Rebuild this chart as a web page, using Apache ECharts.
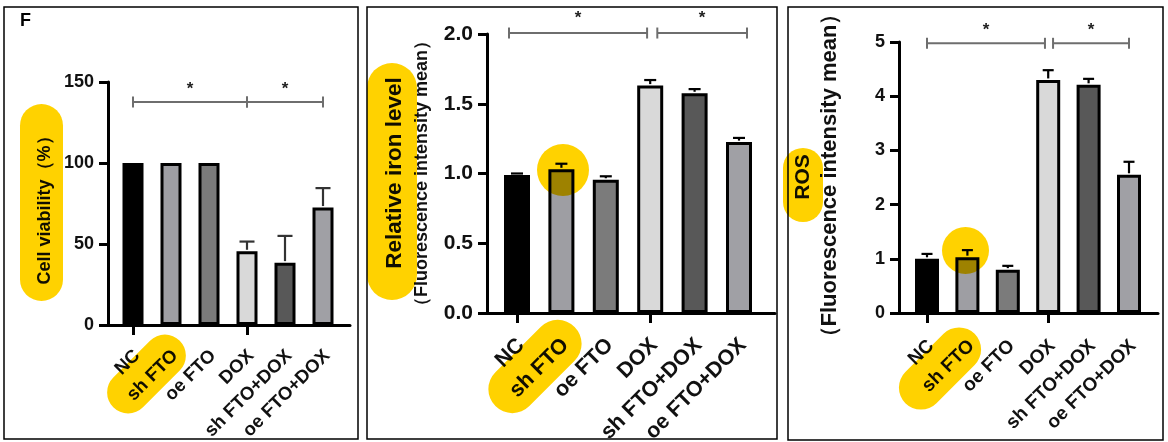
<!DOCTYPE html>
<html><head><meta charset="utf-8">
<script src="https://cdn.jsdelivr.net/npm/echarts@6/dist/echarts.min.js"></script>
<style>html,body{margin:0;padding:0;background:#fff}#c{width:1168px;height:442px}</style>
</head><body><div id="c"></div>
<script>
const categories = ['NC','sh FTO','oe FTO','DOX','sh FTO+DOX','oe FTO+DOX'];
const barColors = ['#000000','#9e9ea3','#7b7b7b','#d9d9d9','#585858','#a0a0a5'];

const viability = [100, 100, 100, 45.5, 38.5, 72.5];
const viabilityErr = [0, 0, 0, 6, 16.5, 12];
const iron = [0.99, 1.03, 0.955, 1.63, 1.575, 1.225];
const ironErr = [0.01, 0.04, 0.025, 0.04, 0.03, 0.03];
const ros = [1.0, 1.03, 0.8, 4.3, 4.21, 2.55];
const rosErr = [0.09, 0.13, 0.07, 0.18, 0.11, 0.24];

const sig1From = [0, 3], sig1To = [3, 5], sig1Level = [137.6, 137.6];
const sig2From = [-0.18, 3.16], sig2To = [2.93, 5.18], sig2Level = [2.007, 2.007];
const sig3From = [0, 3.12], sig3To = [2.92, 5], sig3Level = [4.976, 4.976];
const sigMark = ['*', '*'];

const FONT = "'Liberation Sans', Arial, sans-serif";
const panels = [
  {vals: viability, err: viabilityErr, min:0, max:150, interval:50, fmt: v=>String(v),
   ax0:108, ax1:350, y0:325, yTop:82, first:133, step:38, barW:21, cap:15, errColor:'#333', yFont:18, xFont:18.5, xMargin:28, labShift:4,
   sigFrom: sig1From, sigTo: sig1To, sigLevel: sig1Level, starOff: 13},
  {vals: iron, err: ironErr, min:0, max:2, interval:0.5, fmt: v=>v.toFixed(1),
   ax0:487, ax1:775, y0:313, yTop:34, first:517, step:44.4, barW:26, cap:12, errColor:'#000', yFont:21, xFont:21.5, xMargin:29, labShift:4,
   sigFrom: sig2From, sigTo: sig2To, sigLevel: sig2Level, starOff: 15},
  {vals: ros, err: rosErr, min:0, max:5, interval:1, fmt: v=>String(v),
   ax0:899, ax1:1158, y0:313, yTop:42, first:927, step:40.4, barW:24, cap:11, errColor:'#000', yFont:18, xFont:19, xMargin:30, labShift:4,
   sigFrom: sig3From, sigTo: sig3To, sigLevel: sig3Level, starOff: 13}
];

const grid = [], xAxis = [], yAxis = [], series = [];
const gridBox = (left, width, p) => ({left, width, top:p.yTop, bottom:442-p.y0, containLabel:false, outerBoundsMode:'none'});
panels.forEach((p, k) => {
  const hg = grid.length; grid.push(gridBox(p.ax0, p.ax1-p.ax0, p));
  const bg = grid.length; grid.push(gridBox(p.first-p.step/2, p.step*6, p));
  const lg = grid.length; grid.push(gridBox(p.first-p.step/2+p.labShift, p.step*6, p));

  xAxis.push({type:'value', gridIndex:hg, min:0, max:1, axisLine:{show:true, lineStyle:{color:'#000', width:3}},
    axisTick:{show:false}, axisLabel:{show:false}, splitLine:{show:false}});
  yAxis.push({type:'value', gridIndex:hg, min:p.min, max:p.max, interval:p.interval,
    axisLine:{show:true, lineStyle:{color:'#000', width:3}},
    axisTick:{show:true, length:9, lineStyle:{color:'#000', width:3}},
    axisLabel:{show:true, margin:14, color:'#111', fontWeight:'bold', fontSize:p.yFont, fontFamily:FONT, formatter:p.fmt},
    splitLine:{show:false}});

  xAxis.push({type:'category', gridIndex:bg, data:categories,
    axisLine:{show:false}, axisTick:{show:true, alignWithLabel:true, length:10, lineStyle:{color:'#000', width:3}},
    axisLabel:{show:false}, splitLine:{show:false}});
  yAxis.push({type:'value', gridIndex:bg, min:p.min, max:p.max, show:false});
  const xi = xAxis.length-1, yi = yAxis.length-1;

  xAxis.push({type:'category', gridIndex:lg, data:categories,
    axisLine:{show:false}, axisTick:{show:false},
    axisLabel:{show:true, rotate:45, margin:p.xMargin, interval:0, color:'#111', fontWeight:'bold', fontSize:p.xFont, fontFamily:FONT},
    splitLine:{show:false}});
  yAxis.push({type:'value', gridIndex:lg, min:p.min, max:p.max, show:false});

  series.push({type:'bar', xAxisIndex:xi, yAxisIndex:yi, barWidth:p.barW, z:2,
    data: p.vals.map((v,i)=>({value:v, itemStyle:{color:barColors[i], borderColor:'#000', borderWidth:3}})),
    silent:true, animation:false});
  series.push({type:'custom', xAxisIndex:xi, yAxisIndex:yi, z:3, silent:true, animation:false,
    data: p.vals.map((v,i)=>[i, v, p.err[i]]),
    encode:{x:0, y:1},
    renderItem:(params, api)=>{
      const i=api.value(0), v=api.value(1), e=api.value(2);
      if (!e) return {type:'group', children:[]};
      const a=api.coord([i, v]), b=api.coord([i, v+e]);
      const st={stroke:p.errColor, lineWidth:2.2};
      return {type:'group', children:[
        {type:'line', shape:{x1:a[0], y1:a[1]-1.5, x2:b[0], y2:b[1]}, style:st},
        {type:'line', shape:{x1:b[0]-p.cap/2, y1:b[1], x2:b[0]+p.cap/2, y2:b[1]}, style:st}
      ]};
    }});
  series.push({type:'custom', xAxisIndex:xi, yAxisIndex:yi, z:3, silent:true, animation:false,
    data: p.sigLevel.map((lv,j)=>[0, lv]),
    encode:{x:0, y:1},
    renderItem:(params, api)=>{
      const j=params.dataIndex;
      const bw=api.size([1,0])[0];
      const f=p.sigFrom[j], t=p.sigTo[j], lv=p.sigLevel[j];
      const fi=Math.round(f), ti=Math.round(t);
      const pa=api.coord([fi, lv]), pb=api.coord([ti, lv]);
      const x1=pa[0]+(f-fi)*bw, x2=pb[0]+(t-ti)*bw, y=pa[1];
      const st={stroke:'#6e6e6e', lineWidth:2};
      return {type:'group', children:[
        {type:'line', shape:{x1:x1, y1:y, x2:x2, y2:y}, style:st},
        {type:'line', shape:{x1:x1, y1:y-5.5, x2:x1, y2:y+5.5}, style:st},
        {type:'line', shape:{x1:x2, y1:y-5.5, x2:x2, y2:y+5.5}, style:st},
        {type:'text', x:(x1+x2)/2, y:y-p.starOff, style:{text:sigMark[j], font:'bold 17px '+FONT, fill:'#222', align:'center', verticalAlign:'middle'}}
      ]};
    }});
});

const Y = '#ffd200';
const hl = (el) => Object.assign(el, {z:100, silent:true});
const graphic = [
  {type:'rect', shape:{x:4, y:7, width:354, height:432}, style:{fill:'none', stroke:'#000', lineWidth:1.5}, z:0},
  {type:'rect', shape:{x:367, y:7, width:410, height:432}, style:{fill:'none', stroke:'#000', lineWidth:1.5}, z:0},
  {type:'rect', shape:{x:788, y:7, width:375, height:433}, style:{fill:'none', stroke:'#000', lineWidth:1.5}, z:0},
  {type:'text', x:20, y:12, style:{text:'F', font:'bold 18px '+FONT, fill:'#000'}},
  {type:'text', x:45, y:206, rotation:Math.PI/2, style:{text:'Cell viability（%）', font:'bold 18px '+FONT, fill:'#111', align:'center', verticalAlign:'middle'}},
  {type:'text', x:395, y:173, rotation:Math.PI/2, style:{text:'Relative iron level', font:'bold 22.5px '+FONT, fill:'#111', align:'center', verticalAlign:'middle'}},
  {type:'text', x:422, y:173.5, rotation:Math.PI/2, style:{text:'（Fluorescence intensity mean）', font:'bold 18px '+FONT, fill:'#111', align:'center', verticalAlign:'middle'}},
  {type:'text', x:803, y:177, rotation:Math.PI/2, style:{text:'ROS', font:'bold 21px '+FONT, fill:'#111', align:'center', verticalAlign:'middle'}},
  {type:'text', x:830, y:175.5, rotation:Math.PI/2, style:{text:'（Fluorescence intensity mean）', font:'bold 22px '+FONT, fill:'#111', align:'center', verticalAlign:'middle'}},
  hl({type:'rect', shape:{x:20, y:104, width:43, height:197, r:21.5}, style:{fill:Y, blend:'multiply'}}),
  hl({type:'rect', x:146.5, y:374, rotation:Math.PI/4, shape:{x:-47, y:-21, width:94, height:42, r:21}, style:{fill:Y, blend:'multiply'}}),
  hl({type:'rect', shape:{x:367, y:63, width:50, height:237, r:25}, style:{fill:Y, blend:'multiply'}}),
  hl({type:'rect', x:535, y:366.5, rotation:Math.PI/4, shape:{x:-56, y:-24, width:112, height:48, r:24}, style:{fill:Y, blend:'multiply'}}),
  hl({type:'circle', shape:{cx:563, cy:170, r:26}, style:{fill:Y, blend:'multiply'}}),
  hl({type:'rect', shape:{x:783, y:148, width:40, height:74, r:20}, style:{fill:Y, blend:'multiply'}}),
  hl({type:'rect', x:940, y:368.5, rotation:Math.PI/4, shape:{x:-49, y:-22, width:98, height:44, r:22}, style:{fill:Y, blend:'multiply'}}),
  hl({type:'circle', shape:{cx:965.5, cy:250.5, r:23.5}, style:{fill:Y, blend:'multiply'}})
];

const chart = echarts.init(document.getElementById('c'), null, {renderer:'canvas'});
chart.setOption({animation:false, backgroundColor:'#fff', grid, xAxis, yAxis, series, graphic});
</script></body></html>
